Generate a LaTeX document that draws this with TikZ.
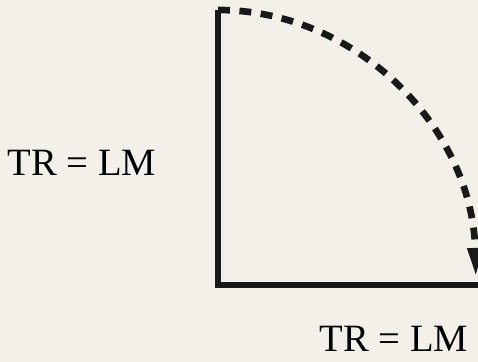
\documentclass[tikz,border=0pt]{standalone}
\usepackage{fontspec}
\setmainfont{Liberation Serif}
\usepackage{xcolor}
\usetikzlibrary{arrows.meta}
\definecolor{paperbg}{RGB}{242,240,232}

\begin{document}
\begin{tikzpicture}[x=0.02cm, y=0.02cm]
    % Page
    \fill[paperbg] (0,0) rectangle (478,362);
    \useasboundingbox (0,0) rectangle (478,362);
    % Axes
    \coordinate (corner) at (218,77);
    \coordinate (top) at (218,352);
    \coordinate (right) at (478,77);
    \draw[line width=3.8pt, black!90] (top) -- (corner) -- (right);
    % Quarter arc
    \draw[line width=3.8pt, black!90, dash pattern=on 6.8pt off 5.4pt, -{Triangle[length=17pt, width=8pt]}]
        (top) arc[start angle=90, end angle=1.5, x radius=258, y radius=275];
    % Labels
    \node[anchor=base, font=\fontsize{22}{26}\selectfont] (left) at (82,186) {TR = LM};
    \node[anchor=base, font=\fontsize{22}{26}\selectfont] (bottom) at (394,10) {TR = LM};
\end{tikzpicture}
\end{document}
